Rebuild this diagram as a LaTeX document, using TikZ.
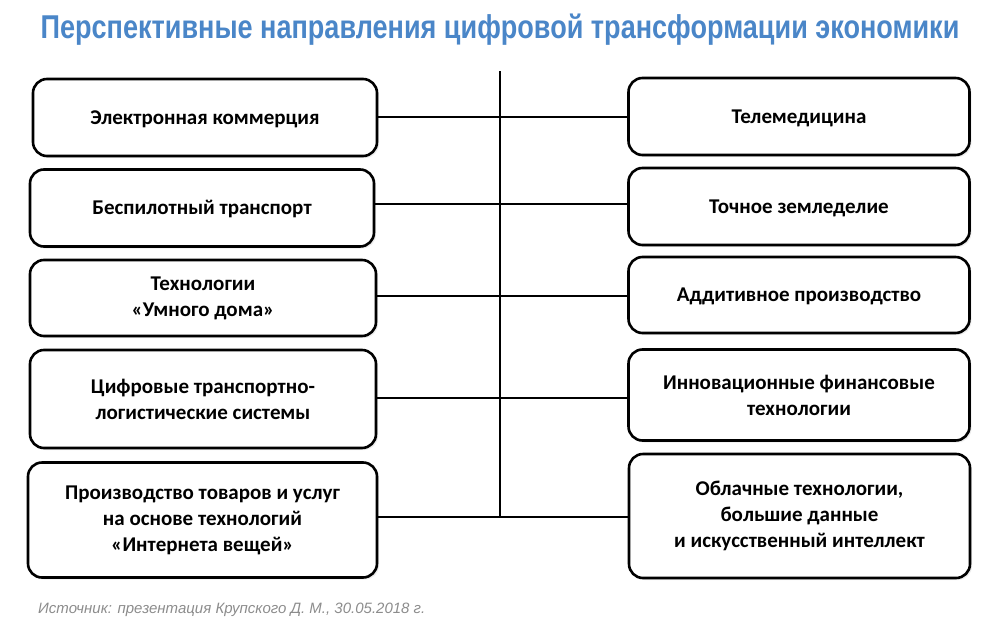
\documentclass[tikz,border=0pt]{standalone}
\usepackage{fontspec}
\setmainfont{Carlito}
\newfontfamily\titlefont[FakeStretch=0.82]{Liberation Sans}
\newfontfamily\notefont{Liberation Sans}
\usetikzlibrary{shadows}
\definecolor{titleblue}{RGB}{74,134,200}
\definecolor{notegray}{RGB}{140,140,140}
\tikzset{
  box/.style={draw=black, line width=2.6pt, rounded corners=14pt, fill=white,
    align=center, font=\bfseries\fontsize{21}{26}\selectfont,
    drop shadow={opacity=0.15, shadow xshift=2pt, shadow yshift=-2pt}},
  oneline/.style={text height=13.5pt, text depth=0pt},
  link/.style={line width=2.2pt}
}
\begin{document}
\begin{tikzpicture}[x=1pt,y=1pt]
\useasboundingbox (0,0) rectangle (1000,-634);
% title
\node[font=\titlefont\bfseries\fontsize{33}{36}\selectfont, text=titleblue] (title) at (500,-30) {Перспективные направления цифровой трансформации экономики};
% left boxes
\node[box, oneline, minimum width=344pt, minimum height=77pt] (L1) at (205,-117.5) {Электронная коммерция};
\node[box, oneline, minimum width=344pt, minimum height=77pt] (L2) at (202,-208) {Беспилотный транспорт};
\node[box, minimum width=346pt, minimum height=76pt] (L3) at (203,-298) {Технологии\\«Умного дома»};
\node[box, minimum width=346pt, minimum height=98pt] (L4) at (203,-399) {Цифровые транспортно-\\логистические системы};
\node[box, minimum width=349pt, minimum height=115pt] (L5) at (202.5,-520) {Производство товаров и услуг\\на основе технологий\\«Интернета вещей»};
% right boxes
\node[box, oneline, minimum width=341pt, minimum height=77pt] (R1) at (799,-116.5) {Телемедицина};
\node[box, oneline, minimum width=341pt, minimum height=77pt] (R2) at (799,-206.5) {Точное земледелие};
\node[box, oneline, minimum width=341pt, minimum height=76pt] (R3) at (799,-295) {Аддитивное производство};
\node[box, minimum width=341pt, minimum height=91pt] (R4) at (799,-395) {Инновационные финансовые\\технологии};
\node[box, minimum width=341pt, minimum height=124pt] (R5) at (799.5,-516) {Облачные технологии,\\большие данные\\и искусственный интеллект};
% spine
\coordinate (top) at (500,-71);
\coordinate (J1) at (500,-117);
\coordinate (J2) at (500,-204);
\coordinate (J3) at (500,-296);
\coordinate (J4) at (500,-398);
\coordinate (J5) at (500,-517);
\draw[link] (top) -- (J5);
\draw[link] (L1.east |- J1) -- (J1) -- (R1.west |- J1);
\draw[link] (L2.east |- J2) -- (J2) -- (R2.west |- J2);
\draw[link] (L3.east |- J3) -- (J3) -- (R3.west |- J3);
\draw[link] (L4.east |- J4) -- (J4) -- (R4.west |- J4);
\draw[link] (L5.east |- J5) -- (J5) -- (R5.west |- J5);
% source note
\node[anchor=west, font=\notefont\itshape\fontsize{15}{17}\selectfont, text=notegray, inner sep=0pt] (src) at (38,-610) {Источник: презентация Крупского Д. М., 30.05.2018 г.};
\end{tikzpicture}
\end{document}
